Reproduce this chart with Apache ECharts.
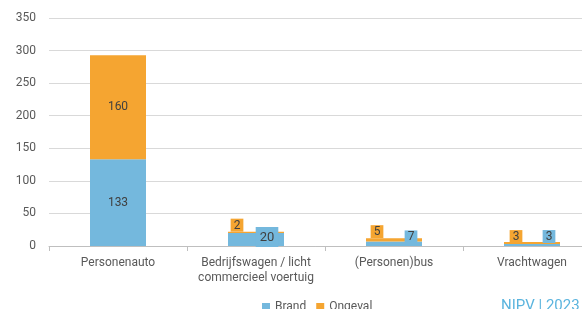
<!DOCTYPE html>
<html>
<head>
<meta charset="utf-8">
<script src="https://cdn.jsdelivr.net/npm/echarts@6/dist/echarts.min.js"></script>
<style>
  html, body { margin: 0; padding: 0; background: #fff; }
  #chart { width: 582px; height: 309px; }
</style>
</head>
<body>
<div id="chart"></div>
<script>
// data
const categories = ['Personenauto', 'Bedrijfswagen / licht\ncommercieel voertuig', '(Personen)bus', 'Vrachtwagen']
const brand = [133, 20, 7, 3]
const ongeval = [160, 2, 5, 3]
const yMax = 350
const yInterval = 50

const blue = '#74B8DD'
const orange = '#F5A531'
const textColor = '#595959'
const font = 'Roboto, "Noto Sans", sans-serif'

// label placement per category (small bars get boxed labels beside each other)
const brandLabelPos = [
  { position: 'inside' },
  { position: 'top', offset: [11, 14], fontSize: 13, padding: [4, 4, 3, 4], lineHeight: 13 },
  { position: 'top', offset: [17, 2] },
  { position: 'top', offset: [17, -1] }
]
const ongevalLabelPos = [
  { position: 'inside' },
  { position: 'top', offset: [-19, 0] },
  { position: 'top', offset: [-17, 0] },
  { position: 'top', offset: [-16, 1] }
]

function buildData (values, posList, color) {
  return values.map((v, i) => {
    const p = posList[i]
    const label = { show: true, position: p.position, color: '#404040', fontSize: p.fontSize || 12, fontFamily: font }
    if (p.position === 'top') {
      label.distance = 0
      label.offset = p.offset
      label.backgroundColor = color
      label.padding = p.padding || [1, 3, 0, 3]
      label.lineHeight = p.lineHeight || 12
    }
    return { value: v, label: label }
  })
}

const chart = echarts.init(document.getElementById('chart'))
chart.setOption({
  animation: false,
  grid: { left: 49, top: 18, width: 552, height: 228, outerBoundsMode: 'none', containLabel: false },
  xAxis: {
    type: 'category',
    data: categories,
    axisLine: { lineStyle: { color: '#BFBFBF', width: 1 } },
    axisTick: { show: true, length: 5, lineStyle: { color: '#BFBFBF' } },
    axisLabel: { color: textColor, fontSize: 12, fontFamily: font, margin: 9, lineHeight: 15, interval: 0 }
  },
  yAxis: {
    type: 'value',
    min: 0,
    max: yMax,
    interval: yInterval,
    axisLine: { show: false },
    axisTick: { show: false },
    splitLine: { lineStyle: { color: '#D9D9D9', width: 1 } },
    axisLabel: { color: textColor, fontSize: 12, fontFamily: font, margin: 13 }
  },
  legend: {
    data: ['Brand', 'Ongeval'],
    top: 296,
    left: 257,
    itemWidth: 8,
    itemHeight: 8,
    itemGap: 10,
    icon: 'rect',
    textStyle: { color: textColor, fontSize: 12, fontFamily: font }
  },
  graphic: [
    {
      type: 'text',
      left: 501,
      top: 299,
      style: { text: 'NIPV | 2023', fill: '#5AB4DE', font: '15px ' + font }
    }
  ],
  series: [
    {
      name: 'Brand',
      type: 'bar',
      stack: 'total',
      barWidth: 56,
      itemStyle: { color: blue },
      data: buildData(brand, brandLabelPos, blue)
    },
    {
      name: 'Ongeval',
      type: 'bar',
      stack: 'total',
      barWidth: 56,
      itemStyle: { color: orange },
      data: buildData(ongeval, ongevalLabelPos, orange)
    }
  ]
})
</script>
</body>
</html>
